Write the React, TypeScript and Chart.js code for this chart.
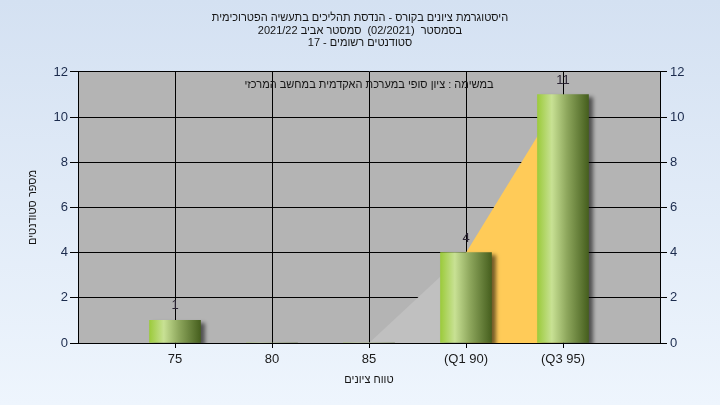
import React, { useEffect, useRef } from "react";
import { Chart, registerables } from "chart.js";

Chart.register(...registerables);

// ---- data ----
const titleLines = [
  "היסטוגרמת ציונים בקורס - הנדסת תהליכים בתעשיה הפטרוכימית",
  "בסמסטר  (02/2021)  סמסטר אביב 2021/22",
  "סטודנטים רשומים - 17",
];
const legendText = "במשימה : ציון סופי במערכת האקדמית במחשב המרכזי";
const xAxisTitle = "טווח ציונים";
const yAxisTitle = "מספר סטודנטים";

const gradeValues = [75, 80, 85, 90, 95];
const gradeTickLabels = ["75", "80", "85", "(Q1 90)", "(Q3 95)"];
const studentCounts = [1, 0, 0, 4, 11];
const yTicks = [0, 2, 4, 6, 8, 10, 12];

// ramp up to Q1 (85 -> 90) and inter-quartile area (Q1 90 -> Q3 95)
const rampIdx = [2, 3];
const iqrIdx = [3, 4];

const FONT = "'Liberation Sans', Arial, sans-serif";

export default function App() {
  const ref = useRef<HTMLCanvasElement | null>(null);

  useEffect(() => {
    document.body.style.margin = "0";
    const canvas = ref.current;
    if (!canvas) return;

    const barPoints = gradeValues.map((g, i) => ({ x: g, y: studentCounts[i] }));
    const rampPoints = rampIdx.map((i) => ({ x: gradeValues[i], y: studentCounts[i] }));
    const iqrPoints = iqrIdx.map((i) => ({ x: gradeValues[i], y: studentCounts[i] }));

    const BAR_W = 51;

    const barGradient = (c: any) => {
      const chart = c.chart;
      if (!chart.chartArea || !c.raw) return "#9dcb3f";
      const cx = chart.scales.x.getPixelForValue(c.raw.x);
      const g = chart.ctx.createLinearGradient(cx - BAR_W / 2, 0, cx + BAR_W / 2, 0);
      g.addColorStop(0, "#9ccb3c");
      g.addColorStop(0.28, "#c8e194");
      g.addColorStop(0.58, "#8da65c");
      g.addColorStop(1, "#465f1e");
      return g;
    };

    const shadowPlugin = {
      id: "barShadow",
      beforeDatasetDraw(chart: any, args: any) {
        if (chart.data.datasets[args.index].type !== "bar") return;
        const ctx = chart.ctx;
        ctx.save();
        ctx.shadowColor = "rgba(0,0,0,0.55)";
        ctx.shadowOffsetX = 4;
        ctx.shadowOffsetY = 3;
        ctx.shadowBlur = 4;
      },
      afterDatasetDraw(chart: any, args: any) {
        if (chart.data.datasets[args.index].type !== "bar") return;
        chart.ctx.restore();
      },
    };

    const labelsPlugin = {
      id: "valueLabels",
      afterDatasetsDraw(chart: any) {
        const ctx = chart.ctx;
        const area = chart.chartArea;
        // legend-like caption at top of plot
        ctx.save();
        ctx.font = `11px ${FONT}`;
        ctx.fillStyle = "#141414";
        ctx.textAlign = "center";
        ctx.textBaseline = "middle";
        ctx.fillText(legendText, (area.left + area.right) / 2, area.top + 13);
        ctx.restore();

        chart.data.datasets.forEach((ds: any, di: number) => {
          if (ds.type !== "bar") return;
          const meta = chart.getDatasetMeta(di);
          meta.data.forEach((el: any, i: number) => {
            const v = ds.data[i].y;
            if (!v) return;
            ctx.save();
            ctx.font = `13px ${FONT}`;
            ctx.fillStyle = "#2b2433";
            ctx.textAlign = "center";
            ctx.textBaseline = "bottom";
            ctx.fillText(String(v), el.x, el.y - 8);
            ctx.restore();
          });
        });
      },
    };

    const plotBg = {
      id: "plotBg",
      beforeDraw(chart: any) {
        const { ctx, chartArea: a } = chart;
        ctx.save();
        ctx.fillStyle = "#b4b4b4";
        ctx.fillRect(a.left, a.top, a.right - a.left, a.bottom - a.top);
        ctx.restore();
      },
    };

    const tickColor = "#1b2b4d";

    const chart = new Chart(canvas, {
      type: "bar",
      data: {
        datasets: [
          {
            type: "bar",
            label: "counts",
            data: barPoints,
            backgroundColor: barGradient,
            borderWidth: 0,
            barThickness: BAR_W,
            order: 1,
          } as any,
          {
            type: "line",
            label: "ramp",
            data: rampPoints,
            borderWidth: 0,
            pointRadius: 0,
            fill: "origin",
            backgroundColor: "#c0c0c0",
            order: 3,
          } as any,
          {
            type: "line",
            label: "iqr",
            data: iqrPoints,
            borderWidth: 0,
            pointRadius: 0,
            fill: "origin",
            backgroundColor: "#ffcb58",
            order: 2,
          } as any,
        ],
      },
      options: {
        responsive: false,
        animation: false,
        devicePixelRatio: 1,
        layout: { padding: 0 },
        plugins: {
          legend: { display: false },
          tooltip: { enabled: false },
          title: {
            display: true,
            text: titleLines,
            color: "#141414",
            font: { family: FONT, size: 11, lineHeight: 1.18, weight: "normal" },
            padding: { top: 11, bottom: 22 },
          },
        },
        scales: {
          x: {
            type: "linear",
            position: "bottom",
            min: 70,
            max: 100,
            offset: false,
            afterBuildTicks(scale: any) {
              scale.ticks = gradeValues.map((v) => ({ value: v }));
            },
            afterFit(scale: any) {
              scale.height = 62;
            },
            ticks: {
              autoSkip: false,
              maxRotation: 0,
              padding: 4,
              color: "#1a1a1a",
              font: { family: FONT, size: 13 },
              callback: (v: any) => {
                const i = gradeValues.indexOf(Number(v));
                return i >= 0 ? gradeTickLabels[i] : "";
              },
            },
            grid: { color: "#000", lineWidth: 1, tickLength: 5, offset: false },
            border: { color: "#000", width: 1 },
            title: {
              display: true,
              text: xAxisTitle,
              color: "#141414",
              font: { family: FONT, size: 11 },
              padding: { top: 0, bottom: 18 },
            },
          } as any,
          y: {
            position: "left",
            min: 0,
            max: 12,
            afterBuildTicks(scale: any) {
              scale.ticks = yTicks.map((v) => ({ value: v }));
            },
            afterFit(scale: any) {
              scale.width = 78;
            },
            ticks: {
              padding: 2,
              color: tickColor,
              font: { family: FONT, size: 13 },
            },
            grid: { color: "#000", lineWidth: 1, tickLength: 8 },
            border: { color: "#000", width: 1 },
            title: {
              display: true,
              text: yAxisTitle,
              color: "#141414",
              font: { family: FONT, size: 11 },
              padding: { top: 26, bottom: 0 },
            },
          } as any,
          y2: {
            position: "right",
            min: 0,
            max: 12,
            afterBuildTicks(scale: any) {
              scale.ticks = yTicks.map((v) => ({ value: v }));
            },
            afterFit(scale: any) {
              scale.width = 60;
            },
            ticks: {
              padding: 3,
              color: tickColor,
              font: { family: FONT, size: 13 },
            },
            grid: { drawOnChartArea: false, color: "#000", tickLength: 7 },
            border: { color: "#000", width: 1 },
          } as any,
        },
      },
      plugins: [plotBg, shadowPlugin, labelsPlugin],
    });

    return () => chart.destroy();
  }, []);

  return (
    <div
      style={{
        position: "fixed",
        left: 0,
        top: 0,
        width: 720,
        height: 405,
        background: "linear-gradient(to bottom, #d4e1f2, #eef5fd)",
      }}
    >
      <canvas ref={ref} width={720} height={405} style={{ display: "block" }} />
    </div>
  );
}
